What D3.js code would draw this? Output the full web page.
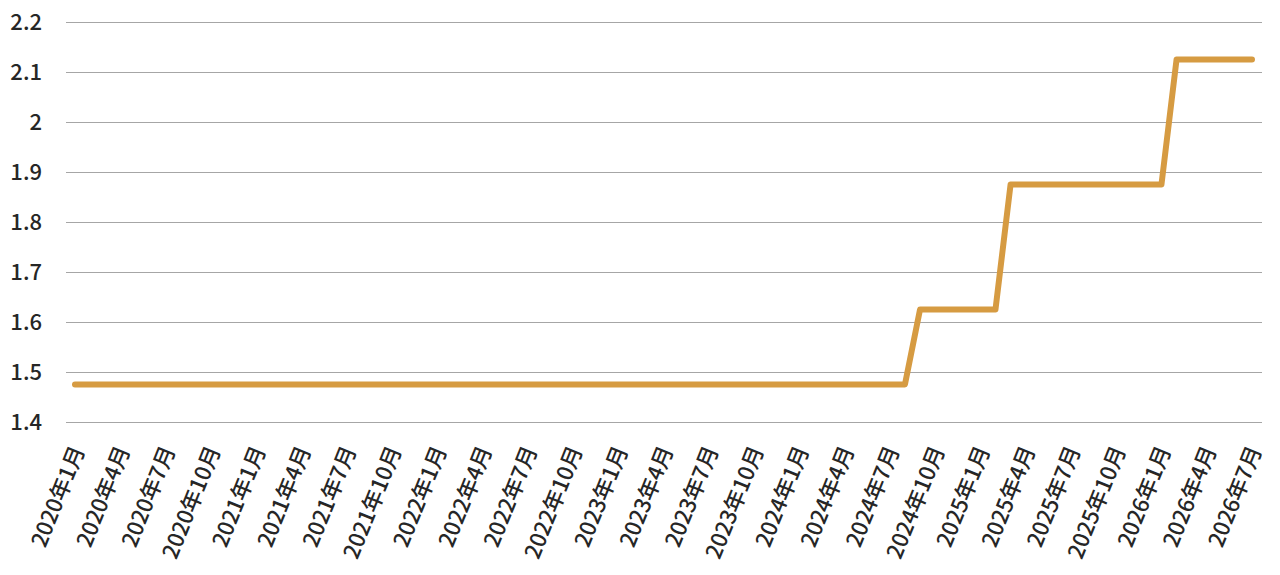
<!DOCTYPE html>
<html>
<head>
<meta charset="utf-8">
<script src="https://cdn.jsdelivr.net/npm/d3@7"></script>
<style>
  html, body { margin: 0; padding: 0; background: #fff; }
  svg { display: block; }
  text { font-family: "Noto Sans CJK JP", "Noto Sans", sans-serif; }
</style>
</head>
<body>
<svg id="chart" width="1280" height="575"></svg>
<script>
// Monthly categories 2020年1月 .. 2026年7月
const months = [
  "2020年1月","2020年2月","2020年3月","2020年4月","2020年5月","2020年6月","2020年7月","2020年8月","2020年9月","2020年10月","2020年11月","2020年12月",
  "2021年1月","2021年2月","2021年3月","2021年4月","2021年5月","2021年6月","2021年7月","2021年8月","2021年9月","2021年10月","2021年11月","2021年12月",
  "2022年1月","2022年2月","2022年3月","2022年4月","2022年5月","2022年6月","2022年7月","2022年8月","2022年9月","2022年10月","2022年11月","2022年12月",
  "2023年1月","2023年2月","2023年3月","2023年4月","2023年5月","2023年6月","2023年7月","2023年8月","2023年9月","2023年10月","2023年11月","2023年12月",
  "2024年1月","2024年2月","2024年3月","2024年4月","2024年5月","2024年6月","2024年7月","2024年8月","2024年9月","2024年10月","2024年11月","2024年12月",
  "2025年1月","2025年2月","2025年3月","2025年4月","2025年5月","2025年6月","2025年7月","2025年8月","2025年9月","2025年10月","2025年11月","2025年12月",
  "2026年1月","2026年2月","2026年3月","2026年4月","2026年5月","2026年6月","2026年7月"
];

const values = [
  1.475,1.475,1.475,1.475,1.475,1.475,1.475,1.475,1.475,1.475,1.475,1.475,
  1.475,1.475,1.475,1.475,1.475,1.475,1.475,1.475,1.475,1.475,1.475,1.475,
  1.475,1.475,1.475,1.475,1.475,1.475,1.475,1.475,1.475,1.475,1.475,1.475,
  1.475,1.475,1.475,1.475,1.475,1.475,1.475,1.475,1.475,1.475,1.475,1.475,
  1.475,1.475,1.475,1.475,1.475,1.475,1.475,1.475,1.625,1.625,1.625,1.625,
  1.625,1.625,1.875,1.875,1.875,1.875,1.875,1.875,1.875,1.875,1.875,1.875,
  1.875,2.125,2.125,2.125,2.125,2.125,2.125
];

const xTickLabels = [
  "2020年1月","2020年4月","2020年7月","2020年10月",
  "2021年1月","2021年4月","2021年7月","2021年10月",
  "2022年1月","2022年4月","2022年7月","2022年10月",
  "2023年1月","2023年4月","2023年7月","2023年10月",
  "2024年1月","2024年4月","2024年7月","2024年10月",
  "2025年1月","2025年4月","2025年7月","2025年10月",
  "2026年1月","2026年4月","2026年7月"
];

const yTicks = [1.4, 1.5, 1.6, 1.7, 1.8, 1.9, 2.0, 2.1, 2.2];

const svg = d3.select("#chart");

const x = d3.scalePoint().domain(months).range([75, 1252]);
const y = d3.scaleLinear().domain([1.4, 2.2]).range([422, 22]);

const gridLeft = 66, gridRight = 1262;

// gridlines
svg.append("g")
  .selectAll("line")
  .data(yTicks)
  .join("line")
  .attr("x1", gridLeft).attr("x2", gridRight)
  .attr("y1", d => y(d) + 0.5).attr("y2", d => y(d) + 0.5)
  .attr("stroke", "#a6a6a6").attr("stroke-width", 1);

// y axis labels
const yAxis = d3.axisLeft(y).tickValues(yTicks).tickSize(0).tickPadding(0)
  .tickFormat(d => d3.format("")(+d.toFixed(1)));
const gy = svg.append("g").attr("transform", "translate(42,0)").call(yAxis);
gy.select(".domain").remove();
gy.selectAll("text")
  .attr("font-size", 22)
  .attr("font-weight", 500)
  .attr("fill", "#262626")
  .attr("font-family", "\"Noto Sans CJK JP\", sans-serif");

// x axis labels
const xAxis = d3.axisBottom(x).tickValues(xTickLabels).tickSize(0).tickPadding(0);
const gx = svg.append("g").call(xAxis);
gx.select(".domain").remove();
gx.selectAll(".tick")
  .attr("transform", d => `translate(${x(d) + 3},447)`);
gx.selectAll(".tick text")
  .attr("font-size", 22)
  .attr("font-weight", 500)
  .attr("fill", "#262626")
  .attr("font-family", "\"Noto Sans CJK JP\", sans-serif")
  .attr("text-anchor", "end")
  .attr("dy", "0.35em")
  .attr("y", 0)
  .attr("x", 0)
  .attr("transform", "rotate(-68)");

// line
const line = d3.line()
  .x((d, i) => x(months[i]))
  .y(d => y(d));

svg.append("path")
  .datum(values)
  .attr("d", line)
  .attr("fill", "none")
  .attr("stroke", "#D69B42")
  .attr("stroke-width", 6)
  .attr("stroke-linecap", "round")
  .attr("stroke-linejoin", "round");
</script>
</body>
</html>
